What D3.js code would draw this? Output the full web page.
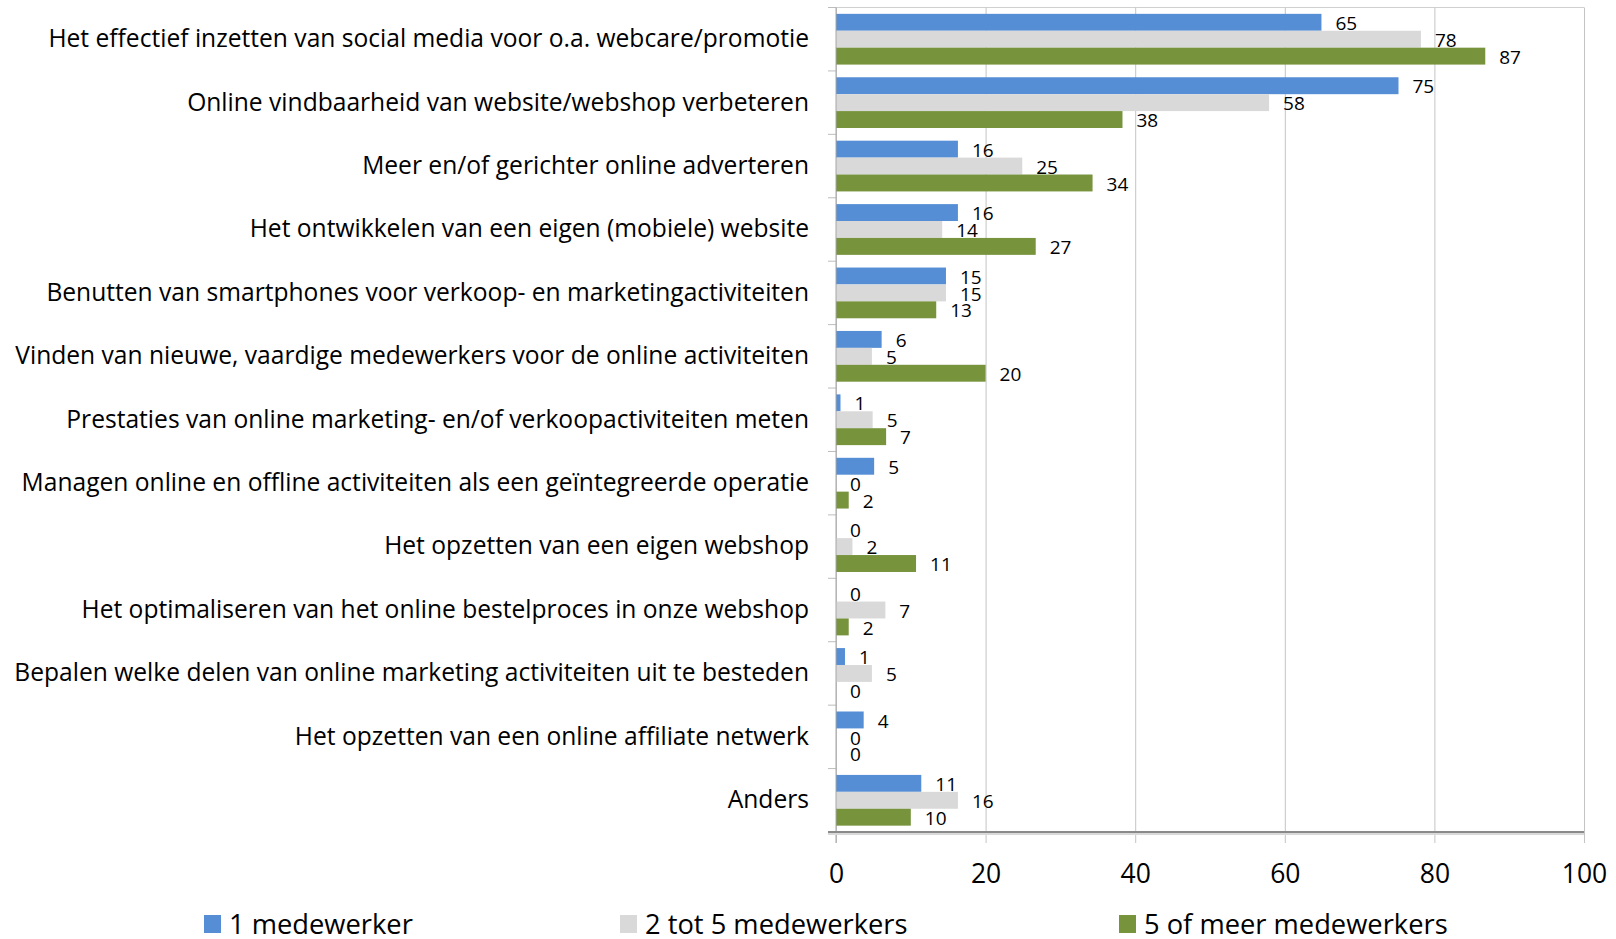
<!DOCTYPE html>
<html>
<head>
<meta charset="utf-8">
<script src="https://cdn.jsdelivr.net/npm/d3@7"></script>
<style>
  body { margin: 0; background: #fff; }
  text { font-family: "Open Sans", sans-serif; fill: #000; }
</style>
</head>
<body>
<div id="chart-area"></div>
<script>
// categories top to bottom
var categories = [
    "Het effectief inzetten van social media voor o.a. webcare/promotie",
    "Online vindbaarheid van website/webshop verbeteren",
    "Meer en/of gerichter online adverteren",
    "Het ontwikkelen van een eigen (mobiele) website",
    "Benutten van smartphones voor verkoop- en marketingactiviteiten",
    "Vinden van nieuwe, vaardige medewerkers voor de online activiteiten",
    "Prestaties van online marketing- en/of verkoopactiviteiten meten",
    "Managen online en offline activiteiten als een geïntegreerde operatie",
    "Het opzetten van een eigen webshop",
    "Het optimaliseren van het online bestelproces in onze webshop",
    "Bepalen welke delen van online marketing activiteiten uit te besteden",
    "Het opzetten van een online affiliate netwerk",
    "Anders"
];

var seriesNames = ["1 medewerker", "2 tot 5 medewerkers", "5 of meer medewerkers"];

var oneEmployee   = [64.9, 75.2, 16.3, 16.3, 14.7, 6.1, 0.6, 5.1, 0, 0, 1.2, 3.7, 11.4];
var twoToFive     = [78.2, 57.9, 24.9, 14.2, 14.7, 4.8, 4.9, 0, 2.2, 6.6, 4.8, 0, 16.3];
var fiveOrMore    = [86.8, 38.3, 34.3, 26.7, 13.4, 20, 6.7, 1.7, 10.7, 1.7, 0, 0, 10];

var xTicks = [0, 20, 40, 60, 80, 100];

var colors = ["#558ed5", "#d9d9d9", "#77933c"];
var legendX = [204, 620, 1119];

var margin = { left: 836, right: 32, top: 7.5, bottom: 107 };
var width = 1616 - margin.left - margin.right,
    height = 939 - margin.top - margin.bottom;

var svg = d3.select("#chart-area")
    .append("svg")
    .attr("width", 1616)
    .attr("height", 939);

var g = svg.append("g")
    .attr("transform", "translate(" + margin.left + "," + margin.top + ")");

var seriesValues = [oneEmployee, twoToFive, fiveOrMore];

var x = d3.scaleLinear()
    .domain([0, 100])
    .range([0, width]);

var y0 = d3.scaleBand()
    .domain(categories)
    .range([0, height])
    .paddingInner(0.2)
    .paddingOuter(0.1);

var y1 = d3.scaleBand()
    .domain(d3.range(seriesNames.length))
    .range([0, y0.bandwidth()]);

// top border
g.append("line")
    .attr("x1", 0).attr("x2", width)
    .attr("y1", 0).attr("y2", 0)
    .attr("stroke", "#d0d0d0");

// vertical gridlines + tick labels
var xAxisCall = d3.axisBottom(x)
    .tickValues(xTicks)
    .tickSize(-(height + 11))
    .tickPadding(21)
    .tickFormat(d3.format("d"));
var xAxis = g.append("g")
    .attr("class", "x-axis")
    .attr("transform", "translate(0," + (height + 11) + ")")
    .call(xAxisCall);
xAxis.select(".domain").remove();
xAxis.selectAll("line").attr("stroke", "#c4c4c4");
xAxis.selectAll("text")
    .attr("font-size", "26.5px")
    .attr("font-family", "Open Sans, sans-serif")
    .attr("fill", "#000");

// category boundary ticks
var gap = y0.step() - y0.bandwidth();
var bounds = categories.map(function(c){ return y0(c) - gap / 2; });
bounds.push(height);
g.selectAll(".cat-tick")
    .data(bounds)
    .enter()
    .append("line")
    .attr("class", "cat-tick")
    .attr("x1", -8).attr("x2", 0)
    .attr("y1", function(d){ return d; })
    .attr("y2", function(d){ return d; })
    .attr("stroke", "#bdbdbd");

// bars
var groups = g.selectAll(".group")
    .data(categories)
    .enter()
    .append("g")
    .attr("class", "group")
    .attr("transform", function(d){ return "translate(0," + y0(d) + ")"; });

groups.selectAll("rect")
    .data(function(d, i){ return seriesValues.map(function(s, k){ return { k: k, v: s[i] }; }); })
    .enter()
    .append("rect")
    .attr("x", x(0))
    .attr("y", function(d){ return y1(d.k); })
    .attr("width", function(d){ return x(d.v) - x(0); })
    .attr("height", y1.bandwidth())
    .attr("fill", function(d){ return colors[d.k]; });

groups.selectAll(".val")
    .data(function(d, i){ return seriesValues.map(function(s, k){ return { k: k, v: s[i] }; }); })
    .enter()
    .append("text")
    .attr("class", "val")
    .attr("x", function(d){ return x(d.v) + 14; })
    .attr("y", function(d){ return y1(d.k) + y1.bandwidth() / 2 + 1; })
    .attr("dy", "0.35em")
    .attr("font-size", "19px")
    .text(function(d){ return d3.format(".0f")(d.v); });

// left axis line and bottom axis line
g.append("line")
    .attr("x1", 0).attr("x2", 0)
    .attr("y1", 0).attr("y2", height + 11)
    .attr("stroke", "#a6a6a6");
g.append("line")
    .attr("x1", -8).attr("x2", width)
    .attr("y1", height + 1.5).attr("y2", height + 1.5)
    .attr("stroke", "#d9d9d9")
    .attr("stroke-width", 3);
g.append("line")
    .attr("x1", -8).attr("x2", width)
    .attr("y1", height).attr("y2", height)
    .attr("stroke", "#8a8a8a")
    .attr("stroke-width", 2);

// category labels
var yAxisCall = d3.axisLeft(y0).tickSize(0).tickPadding(27);
var yAxis = g.append("g")
    .attr("class", "y-axis")
    .call(yAxisCall);
yAxis.select(".domain").remove();
yAxis.selectAll("text")
    .attr("font-size", "24.6px")
    .attr("font-family", "Open Sans, sans-serif")
    .attr("fill", "#000");

// legend
var legend = svg.selectAll(".legend")
    .data(seriesNames)
    .enter()
    .append("g")
    .attr("class", "legend")
    .attr("transform", function(d, i){ return "translate(" + legendX[i] + ",915)"; });
legend.append("rect")
    .attr("width", 17)
    .attr("height", 18)
    .attr("fill", function(d, i){ return colors[i]; });
legend.append("text")
    .attr("x", 25)
    .attr("y", 9)
    .attr("dy", "0.35em")
    .attr("font-size", "27.3px")
    .text(function(d){ return d; });
</script>
</body>
</html>
